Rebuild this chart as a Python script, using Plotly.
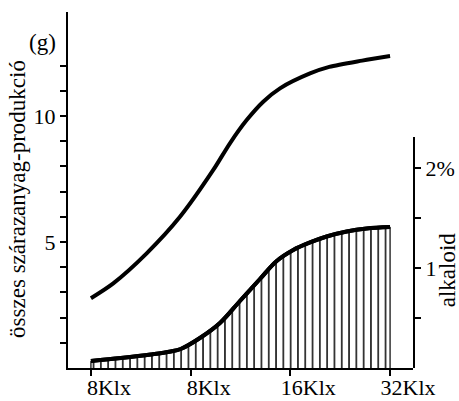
import plotly.graph_objects as go

# Data (x positions are category slots 0..3)
x_tick_vals = [0, 1, 2, 3]
x_tick_text = ["8Klx", "8Klx", "16Klx", "32Klx"]

# összes szárazanyag-produkció (g) – left axis
dry_x = [0, 0.224, 0.559, 0.893, 1.227, 1.394, 1.562, 1.728, 1.896, 2.197, 2.39, 2.72, 3.0]
dry_y = [2.77, 3.36, 4.55, 6.0, 7.86, 8.92, 9.84, 10.57, 11.1, 11.69, 11.95, 12.2, 12.38]

# alkaloid (%) – right axis
alk_x = [0, 0.3, 0.6, 0.8, 0.9, 1.093, 1.294, 1.494, 1.695, 1.863, 2.029, 2.197, 2.364, 2.565, 2.765, 3.0]
alk_y = [0.07, 0.10, 0.135, 0.165, 0.19, 0.30, 0.45, 0.67, 0.89, 1.07, 1.18, 1.255, 1.315, 1.365, 1.395, 1.41]

left_ticks = list(range(1, 13))
left_text = ["5" if v == 5 else "10" if v == 10 else "" for v in left_ticks]
right_ticks = [0.5, 1, 1.5, 2]
right_text = ["", "1", "", "2%"]

FONT = "Liberation Serif, Times New Roman, Times, serif"

fig = go.Figure()

# hatched area under the alkaloid curve
fig.add_trace(go.Scatter(
    x=alk_x, y=alk_y, yaxis="y2", mode="lines",
    line=dict(color="black", width=4, shape="spline", smoothing=1.0),
    fill="tozeroy", fillcolor="white",
    fillpattern=dict(shape="|", size=7.3, solidity=0.2, fgcolor="black", bgcolor="white"),
    showlegend=False,
))
# thin edge lines closing the hatched area at both ends
for xe, ye in ((alk_x[0], alk_y[0]), (alk_x[-1], alk_y[-1])):
    fig.add_trace(go.Scatter(
        x=[xe, xe], y=[0, ye], yaxis="y2", mode="lines",
        line=dict(color="black", width=1.2), hoverinfo="skip", showlegend=False,
    ))
# redraw thick curve on top
fig.add_trace(go.Scatter(
    x=alk_x, y=alk_y, yaxis="y2", mode="lines",
    line=dict(color="black", width=4, shape="spline", smoothing=1.0),
    showlegend=False,
))
fig.add_trace(go.Scatter(
    x=dry_x, y=dry_y, mode="lines",
    line=dict(color="black", width=4, shape="spline", smoothing=0.8),
    showlegend=False,
))

axis_common = dict(
    showline=True, linecolor="black", linewidth=2,
    ticks="outside", ticklen=6, tickwidth=1.5, tickcolor="black",
    showgrid=False, zeroline=False, automargin=False,
    tickfont=dict(family=FONT, size=22, color="black"),
)

fig.update_layout(
    template="none",
    width=459, height=401,
    margin=dict(l=68, r=46, t=12, b=33, autoexpand=False),
    plot_bgcolor="rgba(0,0,0,0)", paper_bgcolor="white",
    font=dict(family=FONT, size=22, color="black"),
    xaxis=dict(range=[-0.23, 3.23], tickvals=x_tick_vals, ticktext=x_tick_text,
               ticklabelshift=18, ticklabelstandoff=-7, **axis_common),
    yaxis=dict(range=[0, 14.13], tickvals=left_ticks, ticktext=left_text, **axis_common),
    yaxis2=dict(domain=[0, 0.649], range=[0, 2.31], anchor="x", side="right",
                tickvals=right_ticks, ticktext=right_text, **axis_common),
    annotations=[
        dict(text="összes szárazanyag-produkció", x=-0.145, y=0.475, xref="paper", yref="paper",
             textangle=-90, showarrow=False, xanchor="center", yanchor="middle",
             font=dict(family=FONT, size=23)),
        dict(text="(g)", x=-0.0725, y=0.913, xref="paper", yref="paper",
             showarrow=False, xanchor="center", yanchor="middle",
             font=dict(family=FONT, size=23)),
        dict(text="alkaloid", x=1.099, y=0.275, xref="paper", yref="paper",
             textangle=-90, showarrow=False, xanchor="center", yanchor="middle",
             font=dict(family=FONT, size=23)),
    ],
)

fig.write_html("out.html", config={"displayModeBar": False},
               post_script="document.body.style.margin='0';")
